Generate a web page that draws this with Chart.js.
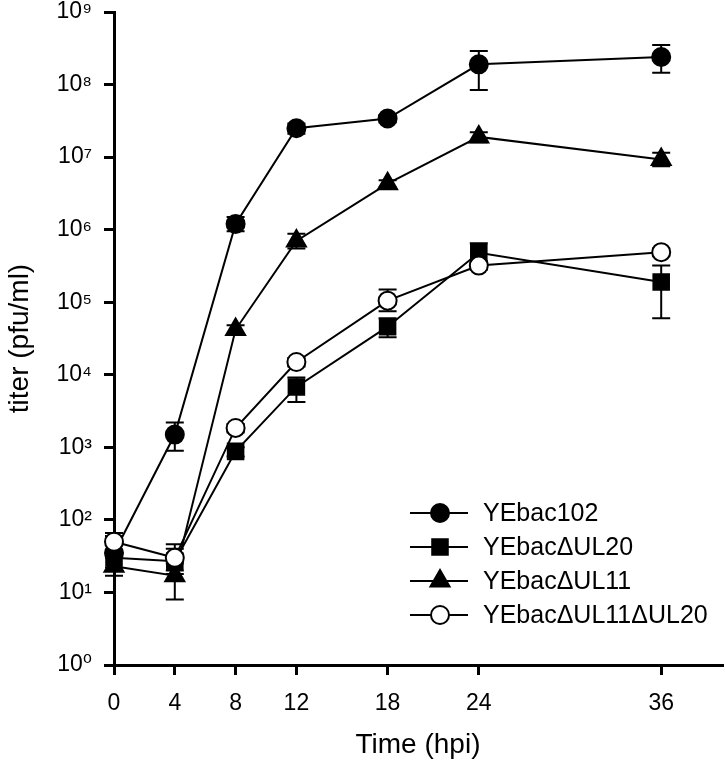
<!DOCTYPE html>
<html>
<head>
<meta charset="utf-8">
<script src="https://cdn.jsdelivr.net/npm/chart.js@4.4.0/dist/chart.umd.min.js"></script>
<style>
body { margin: 0; background: #fff; }
#wrap { width: 725px; height: 765px; }
</style>
</head>
<body>
<div id="wrap"><canvas id="myChart" width="725" height="765"></canvas></div>
<script>
// time points (hpi)
let hours = [0, 4, 8, 12, 18, 24, 36];
let xTicks = [0, 4, 8, 12, 18, 24, 36];
let yTicks = [1, 1e1, 1e2, 1e3, 1e4, 1e5, 1e6, 1e7, 1e8, 1e9];
let supers = ['\u2070', '\u00b9', '\u00b2', '\u00b3', '\u2074', '\u2075', '\u2076', '\u2077', '\u2078', '\u2079'];

let names = ['YEbac102', 'YEbac\u0394UL20', 'YEbac\u0394UL11', 'YEbac\u0394UL11\u0394UL20'];

// titer values (pfu/ml)
let wt = [35, 1500, 1.2e6, 2.5e7, 3.4e7, 1.9e8, 2.4e8];
let wtLow = [22, 900, 9.5e5, 2.1e7, 3.0e7, 8.4e7, 1.45e8];
let wtHigh = [60, 2200, 1.5e6, 2.9e7, 3.8e7, 2.9e8, 3.5e8];

let ul20 = [30, 27, 880, 6800, 4.6e4, 4.8e5, 1.9e5];
let ul20Low = [20, 18, 750, 4200, 3.3e4, 3.5e5, 6.0e4];
let ul20High = [45, 40, 1000, 9200, 6.0e4, 6.5e5, 3.2e5];

let ul11 = [23, 17, 4.2e4, 7.0e5, 4.3e6, 1.9e7, 9.3e6];
let ul11Low = [17, 8, 3.6e4, 5.5e5, 3.8e6, 1.6e7, 7.5e6];
let ul11High = [30, 25, 4.8e4, 8.8e5, 4.8e6, 2.2e7, 1.15e7];

let dbl = [50, 30, 1850, 1.5e4, 1.05e5, 3.2e5, 4.9e5];
let dblLow = [36, 20, 1600, 1.3e4, 7.5e4, 2.8e5, 4.3e5];
let dblHigh = [66, 46, 2100, 1.7e4, 1.5e5, 3.7e5, 5.5e5];

let fontFam = '"Liberation Sans", Arial, "DejaVu Sans", sans-serif';

function points(vals) {
    return hours.map(function (h, i) {
        return {x: h, y: vals[i]};
    });
}

function makeSet(label, vals, lo, hi, style, fill, ord) {
    return {
        label: label,
        data: points(vals),
        errLow: lo,
        errHigh: hi,
        borderColor: '#000',
        borderWidth: 2,
        pointStyle: style,
        pointRadius: style === 'circle' ? 9 : 11,
        pointBackgroundColor: fill,
        pointBorderColor: '#000',
        pointBorderWidth: 2,
        tension: 0,
        fill: false,
        clip: false,
        order: ord
    };
}

let datasets = [
    makeSet(names[0], wt, wtLow, wtHigh, 'circle', '#000', 1),
    makeSet(names[1], ul20, ul20Low, ul20High, 'rect', '#000', 2),
    makeSet(names[2], ul11, ul11Low, ul11High, 'triangle', '#000', 3),
    makeSet(names[3], dbl, dblLow, dblHigh, 'circle', '#fff', 0)
];

// error bars, drawn under the markers
let errorBars = {
    id: 'errorBars',
    beforeDatasetsDraw: function (chart) {
        let ctx = chart.ctx;
        let xs = chart.scales.x;
        let ys = chart.scales.y;
        ctx.save();
        ctx.strokeStyle = '#000';
        ctx.lineWidth = 2;
        chart.data.datasets.forEach(function (ds) {
            ds.errLow.forEach(function (lo, i) {
                let px = xs.getPixelForValue(hours[i]);
                let top = ys.getPixelForValue(ds.errHigh[i]);
                let bot = ys.getPixelForValue(lo);
                ctx.beginPath();
                ctx.moveTo(px, top);
                ctx.lineTo(px, bot);
                ctx.moveTo(px - 9, top);
                ctx.lineTo(px + 9, top);
                ctx.moveTo(px - 9, bot);
                ctx.lineTo(px + 9, bot);
                ctx.stroke();
            });
        });
        ctx.restore();
    }
};

// legend with a line through the marker
let legendBox = {
    id: 'legendBox',
    afterDraw: function (chart) {
        let ctx = chart.ctx;
        let lineLeft = 410, lineRight = 468, markX = 440, textX = 483;
        let rowY = 513, rowGap = 34;
        ctx.save();
        chart.data.datasets.forEach(function (ds, i) {
            let y = rowY + i * rowGap;
            ctx.strokeStyle = '#000';
            ctx.lineWidth = 2;
            ctx.beginPath();
            ctx.moveTo(lineLeft, y);
            ctx.lineTo(lineRight, y);
            ctx.stroke();
            ctx.fillStyle = ds.pointBackgroundColor;
            ctx.strokeStyle = '#000';
            ctx.lineWidth = 2;
            Chart.helpers.drawPoint(ctx, {
                pointStyle: ds.pointStyle,
                radius: ds.pointRadius,
                rotation: 0,
                borderWidth: 2
            }, markX, y);
            ctx.fillStyle = '#000';
            ctx.font = '25px ' + fontFam;
            ctx.textBaseline = 'middle';
            ctx.textAlign = 'left';
            ctx.fillText(ds.label, textX, y + 1);
        });
        ctx.restore();
    }
};

let ctx = document.getElementById('myChart').getContext('2d');
let chart = new Chart(ctx, {
    type: 'line',
    data: {datasets: datasets},
    options: {
        responsive: false,
        devicePixelRatio: 1,
        animation: false,
        layout: {autoPadding: false, padding: {top: 12, right: 3, left: 0, bottom: 0}},
        plugins: {
            legend: {display: false},
            tooltip: {enabled: false}
        },
        scales: {
            x: {
                type: 'linear',
                min: 0,
                max: 40,
                afterBuildTicks: function (scale) {
                    scale.ticks = xTicks.map(function (v) { return {value: v}; });
                },
                afterFit: function (scale) {
                    scale.height = 100;
                    scale.paddingLeft = 0;
                    scale.paddingRight = 0;
                },
                ticks: {
                    color: '#000',
                    padding: 15,
                    maxRotation: 0,
                    font: {family: fontFam, size: 23}
                },
                grid: {drawOnChartArea: false, drawTicks: true, tickLength: 10, color: '#000', lineWidth: 3},
                border: {display: true, color: '#000', width: 3},
                title: {
                    display: true,
                    text: 'Time (hpi)',
                    color: '#000',
                    padding: {top: 0, bottom: 3},
                    font: {family: fontFam, size: 28}
                }
            },
            y: {
                type: 'logarithmic',
                min: 1,
                max: 1e9,
                afterBuildTicks: function (scale) {
                    scale.ticks = yTicks.map(function (v) { return {value: v}; });
                },
                afterFit: function (scale) {
                    scale.width = 114;
                    scale.paddingTop = 0;
                    scale.paddingBottom = 0;
                },
                ticks: {
                    color: '#000',
                    padding: 12,
                    font: {family: fontFam, size: 23},
                    callback: function (value) {
                        let p = Math.round(Math.log10(value));
                        return '10' + supers[p];
                    }
                },
                grid: {drawOnChartArea: false, drawTicks: true, tickLength: 10, color: '#000', lineWidth: 3},
                border: {display: true, color: '#000', width: 3},
                title: {
                    display: true,
                    text: 'titer (pfu/ml)',
                    color: '#000',
                    padding: {top: 3, bottom: 0},
                    font: {family: fontFam, size: 28}
                }
            }
        }
    },
    plugins: [errorBars, legendBox]
});
</script>
</body>
</html>
